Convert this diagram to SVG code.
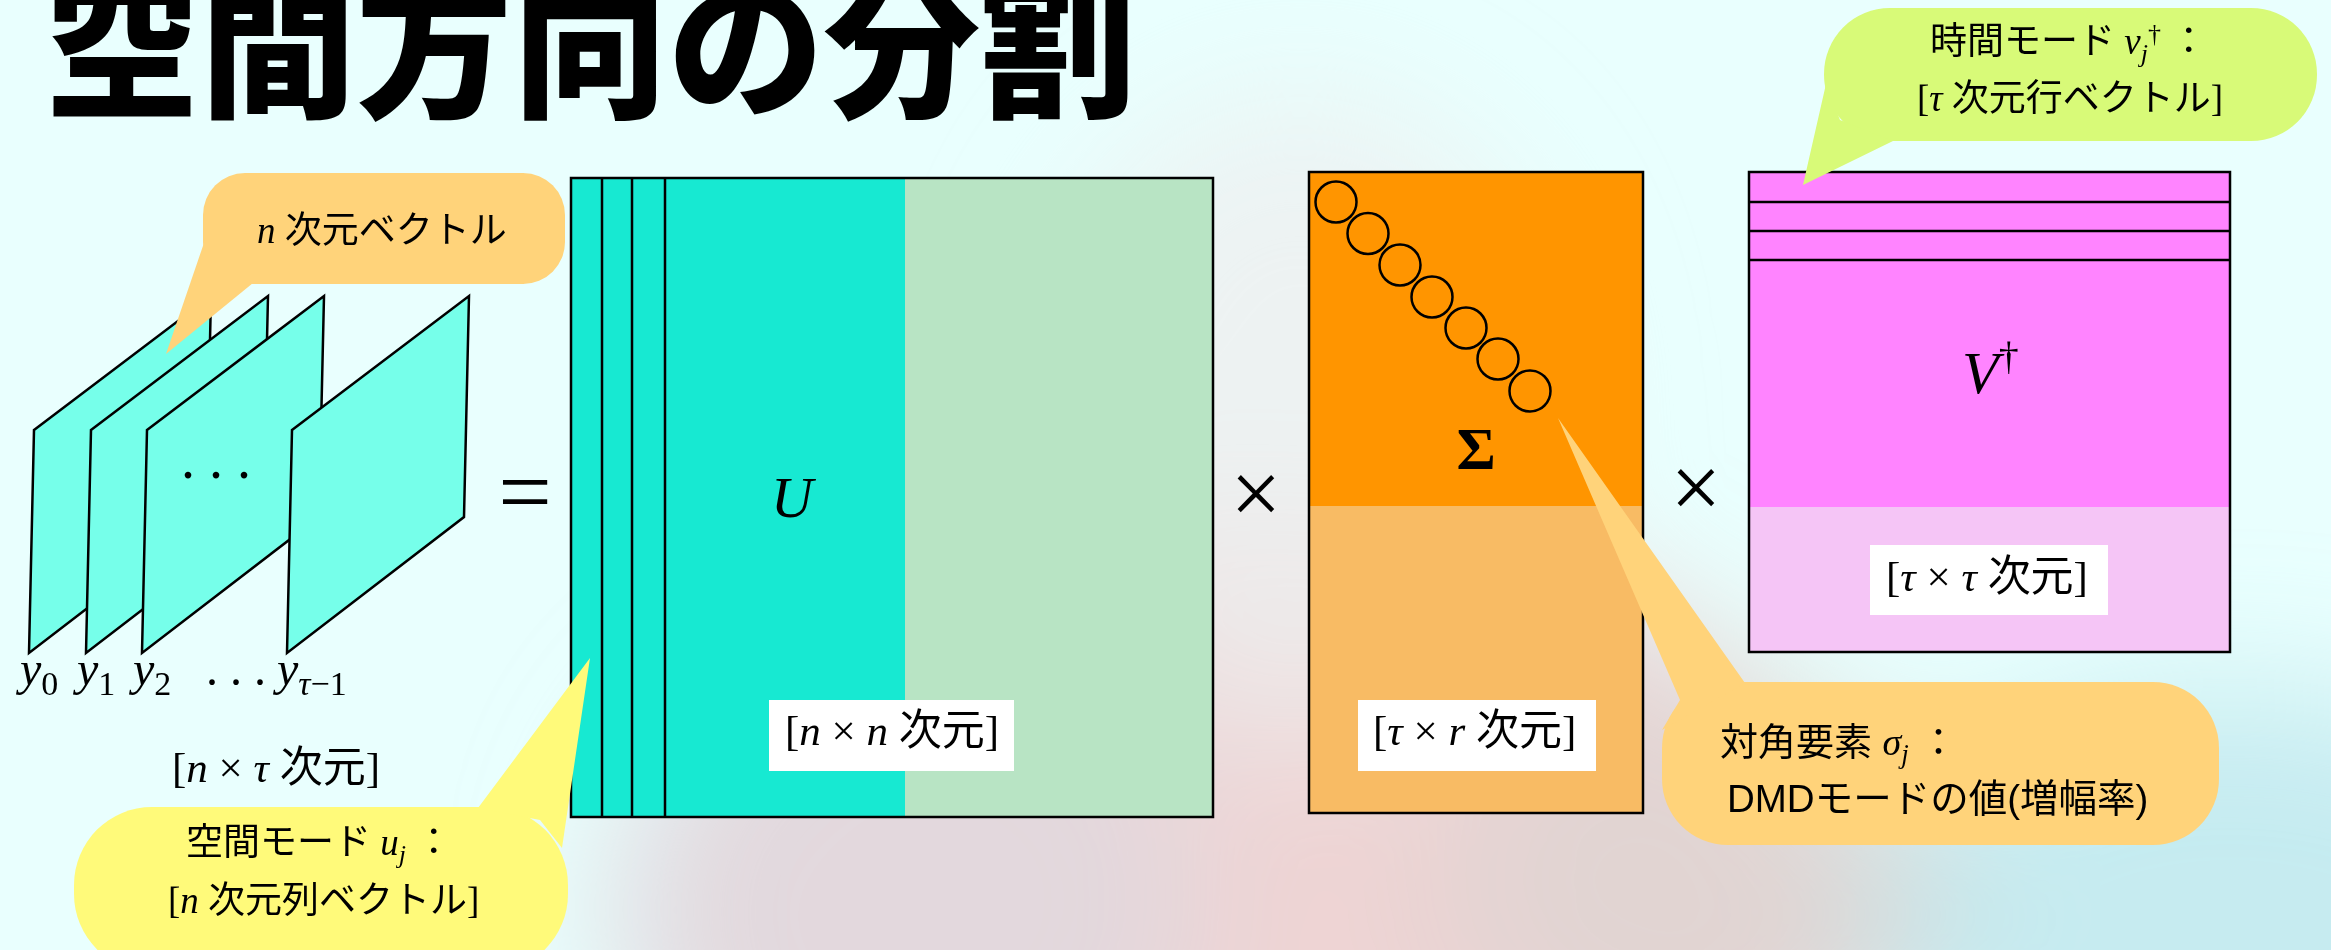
<svg xmlns="http://www.w3.org/2000/svg" width="2331" height="950" viewBox="0 0 2331 950">
<style>
.t{font-family:"Liberation Serif","Noto Sans CJK JP",serif;fill:#000}
.s{font-family:"Liberation Sans","Noto Sans CJK JP",sans-serif;fill:#000}
.mi{font-style:italic;font-family:"Liberation Serif",serif}
.up{font-style:normal;font-family:"Liberation Serif",serif}
.ln{stroke:#000;stroke-width:2.5;fill:none}
.slice{fill:#76FFEA;stroke:#000;stroke-width:2.5;stroke-linejoin:miter}
.ring{fill:none;stroke:#000;stroke-width:2.5}
.wbox{fill:#fff}
.orange{fill:#FFD37A}
</style>
<defs>
<filter id="blur" x="-50%" y="-50%" width="200%" height="200%"><feGaussianBlur stdDeviation="70"/></filter>
</defs>
<g id="background">
<rect width="2331" height="950" fill="#E9FFFE"/>
<g filter="url(#blur)">
<ellipse cx="1250" cy="930" rx="620" ry="420" fill="#EFC9C9" opacity="0.8"/>
<ellipse cx="900" cy="900" rx="300" ry="260" fill="#DCDCE4" opacity="0.6"/>
<ellipse cx="2230" cy="930" rx="380" ry="240" fill="#B6E3EA" opacity="0.7"/>
<ellipse cx="1700" cy="880" rx="260" ry="200" fill="#D6D6D2" opacity="0.5"/>
<ellipse cx="1300" cy="420" rx="260" ry="320" fill="#EDEFEF" opacity="0.8"/>
</g>
</g>
<g id="title">
<text x="44" y="105" font-family="'Noto Sans CJK JP',sans-serif" font-weight="900" font-size="156" fill="#000">空間方向の分割</text>
</g>
<g id="snapshots">
<polygon class="slice" points="34,430 211,296 206,517 29,653"/>
<polygon class="slice" points="91,430 268,296 263,517 86,653"/>
<polygon class="slice" points="147,430 324,296 319,517 142,653"/>
<polygon class="slice" points="292,430 469,296 464,517 287,653"/>
<text class="t" x="181" y="478" font-size="56">. . .</text>
</g>
<g id="snapshot-labels" class="t" font-size="48">
<text x="20" y="685"><tspan class="mi">y</tspan><tspan font-size="34" dy="10">0</tspan></text>
<text x="77" y="685"><tspan class="mi">y</tspan><tspan font-size="34" dy="10">1</tspan></text>
<text x="133" y="685"><tspan class="mi">y</tspan><tspan font-size="34" dy="10">2</tspan></text>
<text x="206" y="685">. . .</text>
<text x="277" y="685"><tspan class="mi">y</tspan><tspan font-size="34" dy="10"><tspan class="mi">τ</tspan>−1</tspan></text>
<text x="172" y="782" font-size="43">[<tspan class="mi">n</tspan> × <tspan class="mi">τ</tspan> 次元]</text>
</g>
<g id="bubble-n-vector">
<rect class="orange" x="203" y="173" width="362" height="111" rx="42"/>
<polygon class="orange" points="205,240 166,354 253,283 230,260"/>
<text class="t" x="257" y="243" font-size="37"><tspan class="mi">n</tspan> 次元ベクトル</text>
</g>
<g id="equals">
<text class="t" x="525" y="524" font-size="95" text-anchor="middle">=</text>
</g>
<g id="matrix-U">
<rect x="571" y="178" width="334" height="639" fill="#17E9D2"/>
<rect x="905" y="178" width="308" height="639" fill="#B8E4C4"/>
<rect class="ln" x="571" y="178" width="642" height="639"/>
<line class="ln" x1="602" y1="178" x2="602" y2="817"/>
<line class="ln" x1="632" y1="178" x2="632" y2="817"/>
<line class="ln" x1="665" y1="178" x2="665" y2="817"/>
<text class="t mi" x="792" y="517" font-size="58" text-anchor="middle">U</text>
<rect class="wbox" x="769" y="700" width="245" height="71"/>
<text class="t" x="785" y="745" font-size="43">[<tspan class="mi">n</tspan> × <tspan class="mi">n</tspan> 次元]</text>
</g>
<g id="times-1">
<text class="t" x="1256" y="524" font-size="90" text-anchor="middle">×</text>
</g>
<g id="matrix-Sigma">
<rect x="1309" y="172" width="334" height="334" fill="#FF9500"/>
<rect x="1309" y="506" width="334" height="307" fill="#F8BB64"/>
<rect class="ln" x="1309" y="172" width="334" height="641"/>
<circle class="ring" cx="1336" cy="202" r="20.5"/>
<circle class="ring" cx="1368" cy="233.5" r="20.5"/>
<circle class="ring" cx="1400" cy="265" r="20.5"/>
<circle class="ring" cx="1432" cy="297" r="20.5"/>
<circle class="ring" cx="1466" cy="328" r="20.5"/>
<circle class="ring" cx="1498" cy="359" r="20.5"/>
<circle class="ring" cx="1530" cy="391" r="20.5"/>
<text class="t" x="1476" y="469" font-size="60" font-weight="bold" text-anchor="middle">Σ</text>
<rect class="wbox" x="1358" y="700" width="238" height="71"/>
<text class="t" x="1373" y="745" font-size="43">[<tspan class="mi">τ</tspan> × <tspan class="mi">r</tspan> 次元]</text>
</g>
<g id="times-2">
<text class="t" x="1696" y="518" font-size="90" text-anchor="middle">×</text>
</g>
<g id="matrix-Vdag">
<rect x="1749" y="172" width="481" height="335" fill="#FF84FF"/>
<rect x="1749" y="507" width="481" height="145" fill="#F5C5F6"/>
<rect class="ln" x="1749" y="172" width="481" height="480"/>
<line class="ln" x1="1749" y1="202" x2="2230" y2="202"/>
<line class="ln" x1="1749" y1="231" x2="2230" y2="231"/>
<line class="ln" x1="1749" y1="260" x2="2230" y2="260"/>
<text class="t" x="1962" y="393" font-size="60"><tspan class="mi">V</tspan><tspan font-size="40" dy="-24">†</tspan></text>
<rect class="wbox" x="1870" y="545" width="238" height="70"/>
<text class="t" x="1886" y="591" font-size="43">[<tspan class="mi">τ</tspan> × <tspan class="mi">τ</tspan> 次元]</text>
</g>
<g id="bubble-spatial-mode">
<rect x="74" y="807" width="494" height="165" rx="78" fill="#FFFA7A"/>
<polygon points="478,808 590,658 562,848 540,820" fill="#FFFA7A"/>
<text class="t" x="186" y="855" font-size="37">空間モード <tspan class="mi">u</tspan><tspan class="mi" font-size="26" dy="8">j</tspan><tspan dy="-8"> ：</tspan></text>
<text class="t" x="168" y="913" font-size="37">[<tspan class="mi">n</tspan> 次元列ベクトル]</text>
</g>
<g id="bubble-time-mode">
<rect x="1824" y="8" width="493" height="133" rx="66" fill="#D8FA78"/>
<polygon points="1826,84 1803,185 1893,141 1840,120" fill="#D8FA78"/>
<text class="t" x="1930" y="54" font-size="37">時間モード <tspan class="mi">v</tspan><tspan class="mi" font-size="26" dy="8">j</tspan><tspan font-size="26" dy="-20">†</tspan><tspan dy="12"> ：</tspan></text>
<text class="t" x="1917" y="111" font-size="37">[<tspan class="mi">τ</tspan> 次元行ベクトル]</text>
</g>
<g id="bubble-singular-values">
<rect class="orange" x="1662" y="682" width="557" height="163" rx="66"/>
<polygon class="orange" points="1558,418 1745,683 1662,730 1680,700"/>
<text class="s" x="1720" y="755" font-size="38">対角要素 <tspan class="mi">σ</tspan><tspan class="mi" font-size="27" dy="8">j</tspan><tspan dy="-8"> ：</tspan></text>
<text class="s" x="1727" y="812" font-size="38.5">DMDモードの値(増幅率)</text>
</g>
</svg>
